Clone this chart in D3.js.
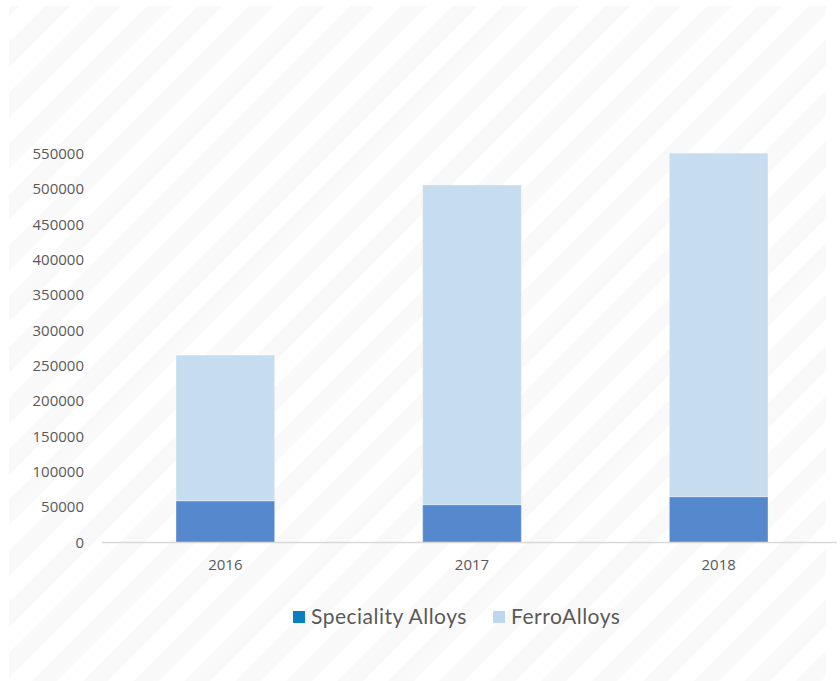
<!DOCTYPE html>
<html>
<head>
<meta charset="utf-8">
<script src="https://cdn.jsdelivr.net/npm/d3@7"></script>
<style>
  body { margin: 0; background: #fff; }
  svg { display: block; }
</style>
</head>
<body>
<div id="chart"></div>
<script>
const years = ['2016', '2017', '2018'];
const specialityAlloys = [59000, 53500, 64800];
const ferroAlloys = [206000, 452000, 485700];
const yTicks = [0, 50000, 100000, 150000, 200000, 250000, 300000, 350000, 400000, 450000, 500000, 550000];
const seriesNames = ['Speciality Alloys', 'FerroAlloys'];

const W = 840, H = 681;
const svg = d3.select('#chart').append('svg').attr('width', W).attr('height', H);

// striped background
const defs = svg.append('defs');
const pat = defs.append('pattern')
    .attr('id', 'stripes')
    .attr('patternUnits', 'userSpaceOnUse')
    .attr('width', 36).attr('height', 36)
    .attr('patternTransform', 'rotate(45)');
pat.append('rect').attr('width', 36).attr('height', 36).attr('fill', '#ffffff');
pat.append('rect').attr('width', 18).attr('height', 36).attr('fill', '#f9f9f9');

svg.append('rect')
    .attr('x', 9).attr('y', 6)
    .attr('width', 817).attr('height', 675)
    .attr('fill', 'url(#stripes)');

const x = d3.scaleBand().domain(years).range([102, 842]).paddingInner(0.6).paddingOuter(0.3);
const y = d3.scaleLinear().domain([0, 550000]).range([542.5, 153.5]);

const table = years.map((yr, i) => ({ year: yr, special: specialityAlloys[i], ferro: ferroAlloys[i] }));
const stacked = d3.stack().keys(['special', 'ferro'])(table);
const colors = { special: '#5588cc', ferro: '#c5ddee' };

// y axis labels
const yAxis = svg.append('g')
    .attr('transform', 'translate(84,0)')
    .call(d3.axisLeft(y).tickValues(yTicks).tickSize(0).tickPadding(0).tickFormat(d3.format('d')));
yAxis.select('.domain').remove();
yAxis.selectAll('text')
    .style('font-family', '"Open Sans", sans-serif')
    .style('font-size', '15px')
    .style('fill', '#595959');

// bars
svg.selectAll('.layer')
    .data(stacked)
    .enter()
    .append('g')
    .attr('fill', (d) => colors[d.key])
    .selectAll('rect')
    .data((d) => d)
    .enter()
    .append('rect')
    .attr('x', (d) => x(d.data.year))
    .attr('y', (d) => y(d[1]))
    .attr('width', x.bandwidth())
    .attr('height', (d) => y(d[0]) - y(d[1]))
    .attr('stroke', '#ffffff')
    .attr('stroke-opacity', 0.35)
    .attr('stroke-width', 1);

// x axis
svg.append('line')
    .attr('x1', 102).attr('x2', 837)
    .attr('y1', y(0)).attr('y2', y(0))
    .attr('stroke', '#d9d9d9').attr('stroke-width', 1.5);

const xAxis = svg.append('g')
    .attr('transform', `translate(0,${y(0)})`)
    .call(d3.axisBottom(x).tickSize(0).tickPadding(17));
xAxis.select('.domain').remove();
xAxis.selectAll('text')
    .style('font-family', '"Open Sans", sans-serif')
    .style('font-size', '15px')
    .style('fill', '#595959');

// legend
const legendColors = ['#0a7fc2', '#bdd7ee'];
const legendX = [293, 493];
const legend = svg.append('g');
seriesNames.forEach((name, i) => {
    legend.append('rect')
        .attr('x', legendX[i]).attr('y', 611)
        .attr('width', 12).attr('height', 12)
        .attr('fill', legendColors[i]);
    legend.append('text')
        .attr('x', legendX[i] + 18).attr('y', 624)
        .style('font-family', 'Lato, sans-serif')
        .style('font-size', '21px')
        .style('letter-spacing', '0.5px')
        .style('fill', '#595959')
        .text(name);
});
</script>
</body>
</html>
